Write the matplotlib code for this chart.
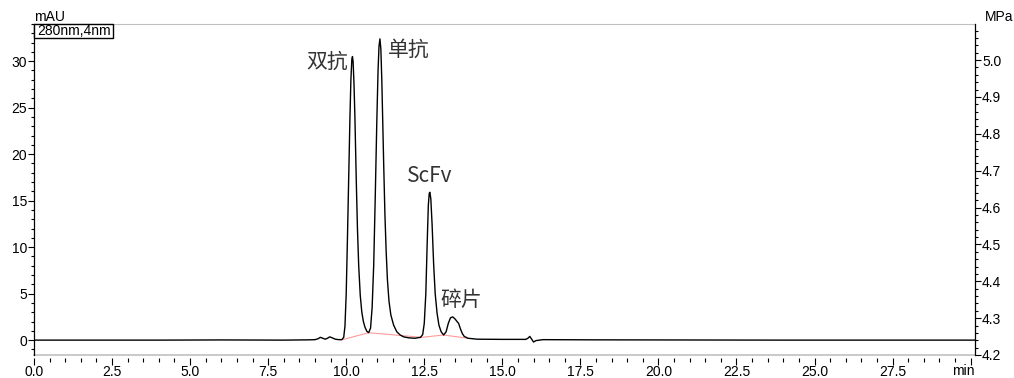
import matplotlib.pyplot as plt
from matplotlib.ticker import MultipleLocator
from matplotlib.patches import Rectangle

plt.rcParams['font.family'] = ['Liberation Sans', 'DejaVu Sans']

# 色谱数据 (min, mAU)
t = [0.0, 2.0, 4.0, 6.0, 8.0, 8.8, 9.0, 9.1, 9.17, 9.25, 9.33, 9.40, 9.47, 9.55, 9.65, 9.76, 9.86,
     9.92, 9.96, 10.00, 10.04, 10.08, 10.12, 10.15, 10.18, 10.20, 10.22, 10.25, 10.28, 10.32,
     10.36, 10.40, 10.45, 10.50, 10.55, 10.60, 10.66, 10.72,
     10.78, 10.83, 10.88, 10.93, 10.98, 11.02, 11.05, 11.08, 11.11, 11.14, 11.17, 11.20, 11.24,
     11.28, 11.32, 11.37, 11.43, 11.52, 11.62, 11.73, 11.84, 12.0, 12.2, 12.38,
     12.45, 12.50, 12.55, 12.59, 12.63, 12.66, 12.68, 12.71, 12.75, 12.80, 12.85, 12.91, 12.97,
     13.04, 13.12, 13.20, 13.27, 13.34, 13.41, 13.48, 13.55, 13.60, 13.66, 13.72, 13.78, 13.90,
     14.2, 15.0, 15.75, 15.82, 15.88, 15.94, 16.0, 16.08, 16.3, 18.0, 20.0, 24.0, 28.0, 30.2]
mau = [0.0, 0.0, 0.0, 0.02, 0.0, 0.03, 0.05, 0.15, 0.3, 0.2, 0.1, 0.2, 0.35, 0.25, 0.1, 0.05, 0.05,
       0.3, 1.5, 5.0, 11.0, 17.5, 24.0, 28.0, 30.2, 30.5, 30.0, 27.5, 23.8, 17.5,
       12.0, 8.0, 4.8, 3.0, 2.0, 1.4, 0.95, 0.8,
       1.3, 3.5, 8.0, 15.4, 23.5, 29.0, 31.6, 32.4, 31.3, 28.0, 23.5, 19.0, 13.5,
       9.5, 6.5, 4.2, 2.7, 1.6, 0.9, 0.55, 0.35, 0.25, 0.2, 0.3,
       0.6, 1.8, 5.0, 10.0, 14.5, 15.8, 15.9, 15.2, 12.5, 8.2, 5.0, 2.9, 1.6,
       0.9, 0.55, 0.9, 1.8, 2.4, 2.5, 2.3, 2.0, 1.8, 1.2, 0.7, 0.4, 0.2,
       0.1, 0.08, 0.08, 0.2, 0.4, 0.1, -0.2, -0.05, 0.05, 0.03, 0.02, 0.0, 0.0, 0.0]

# 积分基线
bl_t = [9.88, 10.72, 12.42, 13.12, 13.9]
bl_y = [0.05, 0.8, 0.3, 0.55, 0.2]

# 峰标注
labels = ['双抗', '单抗', 'ScFv', '碎片']
lab_x = [10.06, 11.35, 12.69, 13.01]
lab_y = [29.9, 31.2, 17.6, 4.3]
lab_ha = ['right', 'left', 'center', 'left']

fig = plt.figure(figsize=(10.14, 3.78), dpi=100)
ax = fig.add_axes([34/1014, 23/378, 941/1014, 331/378])

ax.plot(bl_t, bl_y, color='#ff9a9a', lw=0.8)
ax.plot(t, mau, color='black', lw=1.0)

for s, x, y, ha in zip(labels, lab_x, lab_y, lab_ha):
    ax.text(x, y, s, ha=ha, va='center', fontsize=15, color='#333333', fontweight='light',
            family=['Noto Sans CJK SC', 'DejaVu Sans'])

ax.set_xlim(0, 30.14)
ax.set_ylim(-1.6, 34.0)
ax.xaxis.set_major_locator(MultipleLocator(2.5))
ax.xaxis.set_minor_locator(MultipleLocator(0.5))
ax.yaxis.set_major_locator(MultipleLocator(5))
ax.yaxis.set_minor_locator(MultipleLocator(1))
ax.xaxis.set_major_formatter(plt.FuncFormatter(lambda v, p: '%.1f' % v if v < 29.9 else ''))
ax.tick_params(axis='y', which='major', direction='out', length=4, width=0.8, labelsize=10, pad=1)
ax.tick_params(axis='y', which='minor', direction='out', length=2.5, width=0.8)
ax.tick_params(axis='x', which='major', direction='out', length=5, width=0.8, labelsize=10, pad=0)
ax.tick_params(axis='x', which='minor', direction='out', length=3, width=0.8)

ax.spines['top'].set_color('#c0c0c0')
ax.spines['bottom'].set_position(('outward', 2))
ax.spines['bottom'].set_visible(False)
ax.axhline(-1.6, color='#c0c0c0', lw=1.2, clip_on=False)
ax.spines['right'].set_visible(False)
ax.spines['left'].set_linewidth(0.9)

# 压力轴
ax2 = ax.twinx()
ax2.set_ylim(4.2, 5.098)
ax2.yaxis.set_major_locator(MultipleLocator(0.1))
ax2.yaxis.set_minor_locator(MultipleLocator(0.02))
ax2.yaxis.set_major_formatter(plt.FuncFormatter(lambda v, p: '%.1f' % v))
ax2.tick_params(axis='y', which='major', direction='out', length=4, width=0.8, labelsize=10, pad=1)
ax2.tick_params(axis='y', which='minor', direction='out', length=2.5, width=0.8)
for sp in ['top', 'bottom', 'left']:
    ax2.spines[sp].set_visible(False)
ax2.spines['right'].set_linewidth(0.9)

ax.add_patch(Rectangle((0.0, 1.0 - 14/331), 79/941, 14/331, transform=ax.transAxes,
                       facecolor='white', edgecolor='black', lw=1.0, zorder=5, clip_on=False))
ax.text(0.003, 1.0 - 7/331, '280nm,4nm', transform=ax.transAxes, ha='left', va='center',
        fontsize=10, zorder=6)

fig.text(34/1014, 1 - 17/378, 'mAU', ha='left', va='center', fontsize=10)
fig.text(985/1014, 1 - 17/378, 'MPa', ha='left', va='center', fontsize=10)
fig.text(963/1014, 1 - 371/378, 'min', ha='center', va='center', fontsize=10)

fig.savefig('out.png', dpi=100, facecolor='white')
